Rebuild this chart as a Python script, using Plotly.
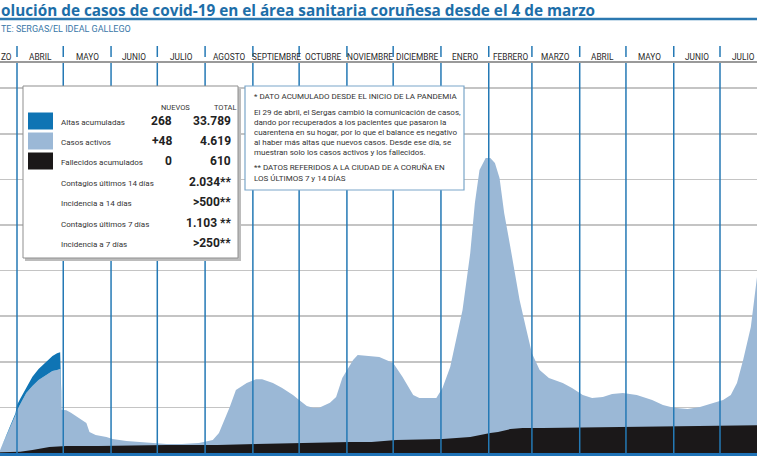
import plotly.graph_objects as go
import pandas as pd

# ------------------------------------------------------------------ data
active_dates = [
    "2020-03-04", "2020-03-10", "2020-03-15", "2020-03-18", "2020-03-21", "2020-03-24",
    "2020-03-27", "2020-03-31", "2020-04-01", "2020-04-03", "2020-04-07", "2020-04-11",
    "2020-04-15", "2020-04-20", "2020-04-24", "2020-04-27", "2020-04-29", "2020-04-30",
    "2020-05-03", "2020-05-06", "2020-05-10", "2020-05-16", "2020-05-18", "2020-05-22",
    "2020-05-29", "2020-06-02", "2020-06-11", "2020-06-19", "2020-06-30", "2020-07-07",
    "2020-07-17", "2020-07-28", "2020-08-06", "2020-08-10", "2020-08-17", "2020-08-21",
    "2020-08-28", "2020-09-03", "2020-09-07", "2020-09-14", "2020-09-20", "2020-09-27",
    "2020-10-01", "2020-10-06", "2020-10-10", "2020-10-14", "2020-10-21", "2020-10-25",
    "2020-10-29", "2020-11-05", "2020-11-08", "2020-11-14", "2020-11-22", "2020-12-01",
    "2020-12-07", "2020-12-14", "2020-12-18", "2020-12-29", "2021-01-02", "2021-01-07",
    "2021-01-11", "2021-01-15", "2021-01-20", "2021-01-23", "2021-01-26", "2021-01-30",
    "2021-02-02", "2021-02-05", "2021-02-08", "2021-02-11", "2021-02-15", "2021-02-18",
    "2021-02-21", "2021-02-25", "2021-03-01", "2021-03-06", "2021-03-12", "2021-03-21",
    "2021-03-27", "2021-04-03", "2021-04-09", "2021-04-16", "2021-04-22", "2021-04-29",
    "2021-05-08", "2021-05-18", "2021-05-25", "2021-06-01", "2021-06-10", "2021-06-18",
    "2021-06-27", "2021-07-03", "2021-07-08", "2021-07-12", "2021-07-16", "2021-07-21",
    "2021-07-25", "2021-07-26",
]
active_values = [
    5, 15, 30, 45, 60, 285,
    550, 830, 940, 1075, 1315, 1470,
    1600, 1710, 1800, 1820, 1840, 950,
    940, 880, 790, 660, 460, 395,
    350, 305, 265, 240, 220, 200,
    200, 220, 285, 440, 1010, 1380,
    1535, 1620, 1620, 1535, 1425, 1270,
    1160, 1030, 990, 990, 1100, 1230,
    1645, 2040, 2150, 2130, 2105, 1975,
    1670, 1270, 1205, 1205, 1425, 1885,
    2480, 3135, 4385, 5480, 6205, 6470,
    6470, 6360, 6030, 5265, 4520, 3950,
    3355, 2765, 2190, 1820, 1645, 1535,
    1425, 1270, 1205, 1230, 1295, 1315,
    1270, 1160, 1050, 990, 965, 1010,
    1100, 1160, 1270, 1535, 2040, 2765,
    3860, 4619,
]

altas_dates = ["2020-03-27", "2020-03-31", "2020-04-01", "2020-04-03", "2020-04-07",
               "2020-04-11", "2020-04-15", "2020-04-20", "2020-04-24", "2020-04-27",
               "2020-04-29"]
altas_values = [0, 40, 110, 110, 130, 200, 240, 285, 330, 370, 370]

deaths_dates = ["2020-03-04", "2020-03-21", "2020-04-03", "2020-04-11", "2020-04-22",
                "2020-05-03", "2020-05-24", "2020-07-07", "2020-08-09", "2020-09-03",
                "2020-10-01", "2020-10-12", "2020-11-03", "2020-11-17", "2020-12-03",
                "2021-01-02", "2021-01-20", "2021-02-02", "2021-02-07", "2021-02-15",
                "2021-02-23", "2021-03-08", "2021-04-16", "2021-06-01", "2021-07-26"]
deaths_values = [0, 15, 25, 65, 130, 155, 155, 175, 175, 195, 220, 220, 240, 240, 285,
                 305, 350, 440, 460, 525, 550, 550, 570, 590, 610]

month_starts = ["2020-03-01", "2020-04-01", "2020-05-01", "2020-06-01", "2020-07-01",
                "2020-08-01", "2020-09-01", "2020-10-01", "2020-11-01", "2020-12-01",
                "2021-01-01", "2021-02-01", "2021-03-01", "2021-04-01", "2021-05-01",
                "2021-06-01", "2021-07-01", "2021-08-01"]
# first label is only partly visible at the left edge of the (cropped) graphic
month_labels = ["ZO", "ABRIL", "MAYO", "JUNIO", "JULIO", "AGOSTO", "SEPTIEMBRE",
                "OCTUBRE", "NOVIEMBRE", "DICIEMBRE", "ENERO", "FEBRERO", "MARZO", "ABRIL",
                "MAYO", "JUNIO", "JULIO"]

legend_names = ["Altas acumuladas", "Casos activos", "Fallecidos acumulados"]
legend_new = ["268", "+48", "0"]
legend_total = ["33.789", "4.619", "610"]
stat_names = ["Contagios últimos 14 días", "Incidencia a 14 días",
              "Contagios últimos 7 días", "Incidencia a 7 días"]
stat_values = ["2.034**", ">500**", "1.103 **", ">250**"]

note_head = "* DATO ACUMULADO DESDE EL INICIO DE LA PANDEMIA"
note_body = ["El 29 de abril, el Sergas cambió la comunicación de casos,",
             "dando por recuperados a los pacientes que pasaron la",
             "cuarentena en su hogar, por lo que el balance es negativo",
             "al haber más altas que nuevos casos. Desde ese día, se",
             "muestran solo los casos activos y los fallecidos."]
note_foot = ["** DATOS REFERIDOS A LA CIUDAD DE A CORUÑA EN",
             "LOS ÚLTIMOS 7 y 14 DÍAS"]

title_text = "olución de casos de covid-19 en el área sanitaria coruñesa desde el 4 de marzo"
source_text = "TE: SERGAS/EL IDEAL GALLEGO"

x_range = ["2020-03-20 23:17", "2021-07-25 00:00"]
y_max = 8575
y_step = 1000

# ------------------------------------------------------------------ style
W, H = 757, 463
T, B = 62, 10
C_ALTAS = "#0f74b4"
C_ACTIVE = "#9bb8d6"
C_DEATHS = "#1b1819"
C_VLINE = "#2479b5"
C_GRID = "#c4c4c4"
C_TITLE = "#1d6ea8"
NARROW = "Roboto, Liberation Sans, sans-serif"


def px(x):
    return x / W


def py(y):
    return (H - B - y) / (H - T - B)


fig = go.Figure()
fig.add_trace(go.Scatter(x=active_dates, y=active_values, stackgroup="g", mode="lines",
                         line=dict(width=0, color=C_ACTIVE), fillcolor=C_ACTIVE,
                         hoverinfo="skip", name="Casos activos"))
fig.add_trace(go.Scatter(x=altas_dates, y=altas_values, stackgroup="g", mode="lines",
                         line=dict(width=0, color=C_ALTAS), fillcolor=C_ALTAS,
                         hoverinfo="skip", name="Altas acumuladas"))
fig.add_trace(go.Scatter(x=deaths_dates, y=deaths_values, mode="lines", fill="tozeroy",
                         line=dict(width=0, color=C_DEATHS), fillcolor=C_DEATHS,
                         hoverinfo="skip", name="Fallecidos acumulados"))

shapes = []
annotations = []

# month boundary lines (above the areas) and small separators in the label row
for ms in month_starts:
    shapes.append(dict(type="line", xref="x", yref="paper", x0=ms, x1=ms, y0=0, y1=1,
                       line=dict(color=C_VLINE, width=1.5), layer="above"))
    shapes.append(dict(type="line", xref="x", yref="paper", x0=ms, x1=ms,
                       y0=py(57), y1=py(46), line=dict(color=C_VLINE, width=1.5),
                       layer="above"))

# month labels, centred in each month
starts = pd.to_datetime(month_starts)
lo = pd.Timestamp(x_range[0])
for i, lab in enumerate(month_labels):
    mid = starts[i] + (starts[i + 1] - starts[i]) / 2
    if mid < lo:
        annotations.append(dict(x=0, xref="paper", y=py(50), yref="paper",
                                text=lab, showarrow=False, xanchor="left", xshift=-1,
                                font=dict(family=NARROW, size=8.3, color="#2a2a2a")))
    else:
        annotations.append(dict(x=mid.strftime("%Y-%m-%d %H:%M"), xref="x", y=py(50),
                                yref="paper", text=lab, showarrow=False,
                                font=dict(family=NARROW, size=8.3, color="#2a2a2a")))

# top border and title underline
shapes.append(dict(type="line", xref="paper", yref="paper", x0=0, x1=1, y0=1, y1=1,
                   line=dict(color="#9a9a9a", width=2), layer="above"))
shapes.append(dict(type="line", xref="paper", yref="paper", x0=0, x1=1, y0=py(19),
                   y1=py(19), line=dict(color="#2b78b0", width=2.5), layer="above"))

annotations.append(dict(x=0, xref="paper", y=py(10), yref="paper", text=title_text,
                        showarrow=False, xanchor="left", yanchor="middle", xshift=-1,
                        font=dict(family="Open Sans", size=15.3, color=C_TITLE,
                                  weight="bold")))
annotations.append(dict(x=0, xref="paper", y=py(29), yref="paper", text=source_text,
                        showarrow=False, xanchor="left", yanchor="middle", xshift=-1,
                        font=dict(family=NARROW, size=9, color="#3a78a8")))

# legend box
shapes.append(dict(type="rect", xref="paper", yref="paper", x0=px(25), x1=px(241),
                   y0=py(261), y1=py(89), fillcolor="#bcbcbc", line=dict(width=0),
                   layer="above"))
shapes.append(dict(type="rect", xref="paper", yref="paper", x0=px(23), x1=px(238),
                   y0=py(258), y1=py(86), fillcolor="white",
                   line=dict(color="#8f8f8f", width=1), layer="above"))
# note box
shapes.append(dict(type="rect", xref="paper", yref="paper", x0=px(245), x1=px(464),
                   y0=py(190), y1=py(86), fillcolor="white",
                   line=dict(color="#7aa6c9", width=1.2), layer="above"))

swatch_colors = [C_ALTAS, C_ACTIVE, C_DEATHS]
row_y = [121, 141, 161]
for i, name in enumerate(legend_names):
    yc = row_y[i]
    shapes.append(dict(type="rect", xref="paper", yref="paper", x0=px(28), x1=px(53),
                       y0=py(yc + 8.5), y1=py(yc - 8.5), fillcolor=swatch_colors[i],
                       line=dict(width=0), layer="above"))
    annotations.append(dict(x=px(59), xref="paper", y=py(yc + 1), yref="paper", text=name,
                            showarrow=False, xanchor="left", yanchor="middle",
                            font=dict(family=NARROW, size=8, color="#333333")))
    annotations.append(dict(x=px(174), xref="paper", y=py(yc), yref="paper",
                            text=legend_new[i], showarrow=False, xanchor="right",
                            yanchor="middle",
                            font=dict(family=NARROW, size=12, color="#222222",
                                      weight="bold")))
    annotations.append(dict(x=px(233), xref="paper", y=py(yc), yref="paper",
                            text=legend_total[i], showarrow=False, xanchor="right",
                            yanchor="middle",
                            font=dict(family=NARROW, size=12, color="#222222",
                                      weight="bold")))

stat_y = [182, 202, 223, 243]
for i, name in enumerate(stat_names):
    annotations.append(dict(x=px(59), xref="paper", y=py(stat_y[i] + 1), yref="paper",
                            text=name, showarrow=False, xanchor="left", yanchor="middle",
                            font=dict(family=NARROW, size=8, color="#333333")))
    annotations.append(dict(x=px(233), xref="paper", y=py(stat_y[i]), yref="paper",
                            text=stat_values[i], showarrow=False, xanchor="right",
                            yanchor="middle",
                            font=dict(family=NARROW, size=12, color="#222222",
                                      weight="bold")))

annotations.append(dict(x=px(159), xref="paper", y=py(101), yref="paper", text="NUEVOS",
                        showarrow=False, font=dict(family=NARROW, size=7.5, color="#333333")))
annotations.append(dict(x=px(212), xref="paper", y=py(101), yref="paper", text="TOTAL",
                        showarrow=False, font=dict(family=NARROW, size=7.5, color="#333333")))

# note text
annotations.append(dict(x=px(252), xref="paper", y=py(96), yref="paper", text=note_head,
                        showarrow=False, xanchor="left", yanchor="middle",
                        font=dict(family=NARROW, size=8, color="#333333")))
for i, line in enumerate(note_body):
    annotations.append(dict(x=px(252), xref="paper", y=py(112 + 10 * i), yref="paper",
                            text=line, showarrow=False, xanchor="left", yanchor="middle",
                            font=dict(family=NARROW, size=8, color="#333333")))
for i, line in enumerate(note_foot):
    annotations.append(dict(x=px(252), xref="paper", y=py(167 + 11 * i), yref="paper",
                            text=line, showarrow=False, xanchor="left", yanchor="middle",
                            font=dict(family=NARROW, size=8, color="#333333")))

fig.update_layout(
    width=W, height=H,
    margin=dict(l=0, r=0, t=T, b=B, pad=0),
    paper_bgcolor="white", plot_bgcolor="white",
    showlegend=False,
    hovermode=False,
    xaxis=dict(type="date", range=x_range, showgrid=False, zeroline=False,
               showticklabels=False, ticks="", showline=True, linecolor="#1f72b6",
               linewidth=3, fixedrange=True),
    yaxis=dict(range=[0, y_max], tick0=0, dtick=y_step, showgrid=True, gridcolor=C_GRID,
               gridwidth=1.5, zeroline=False, showticklabels=False, ticks="",
               showline=False, fixedrange=True),
    shapes=shapes,
    annotations=annotations,
)

# remove the browser's default 8px page margin so the figure sits at the window corner
fig.write_html("out.html",
               config={"displayModeBar": False, "staticPlot": True},
               post_script="document.body.style.margin='0px';"
                           "document.body.style.overflow='hidden';")
